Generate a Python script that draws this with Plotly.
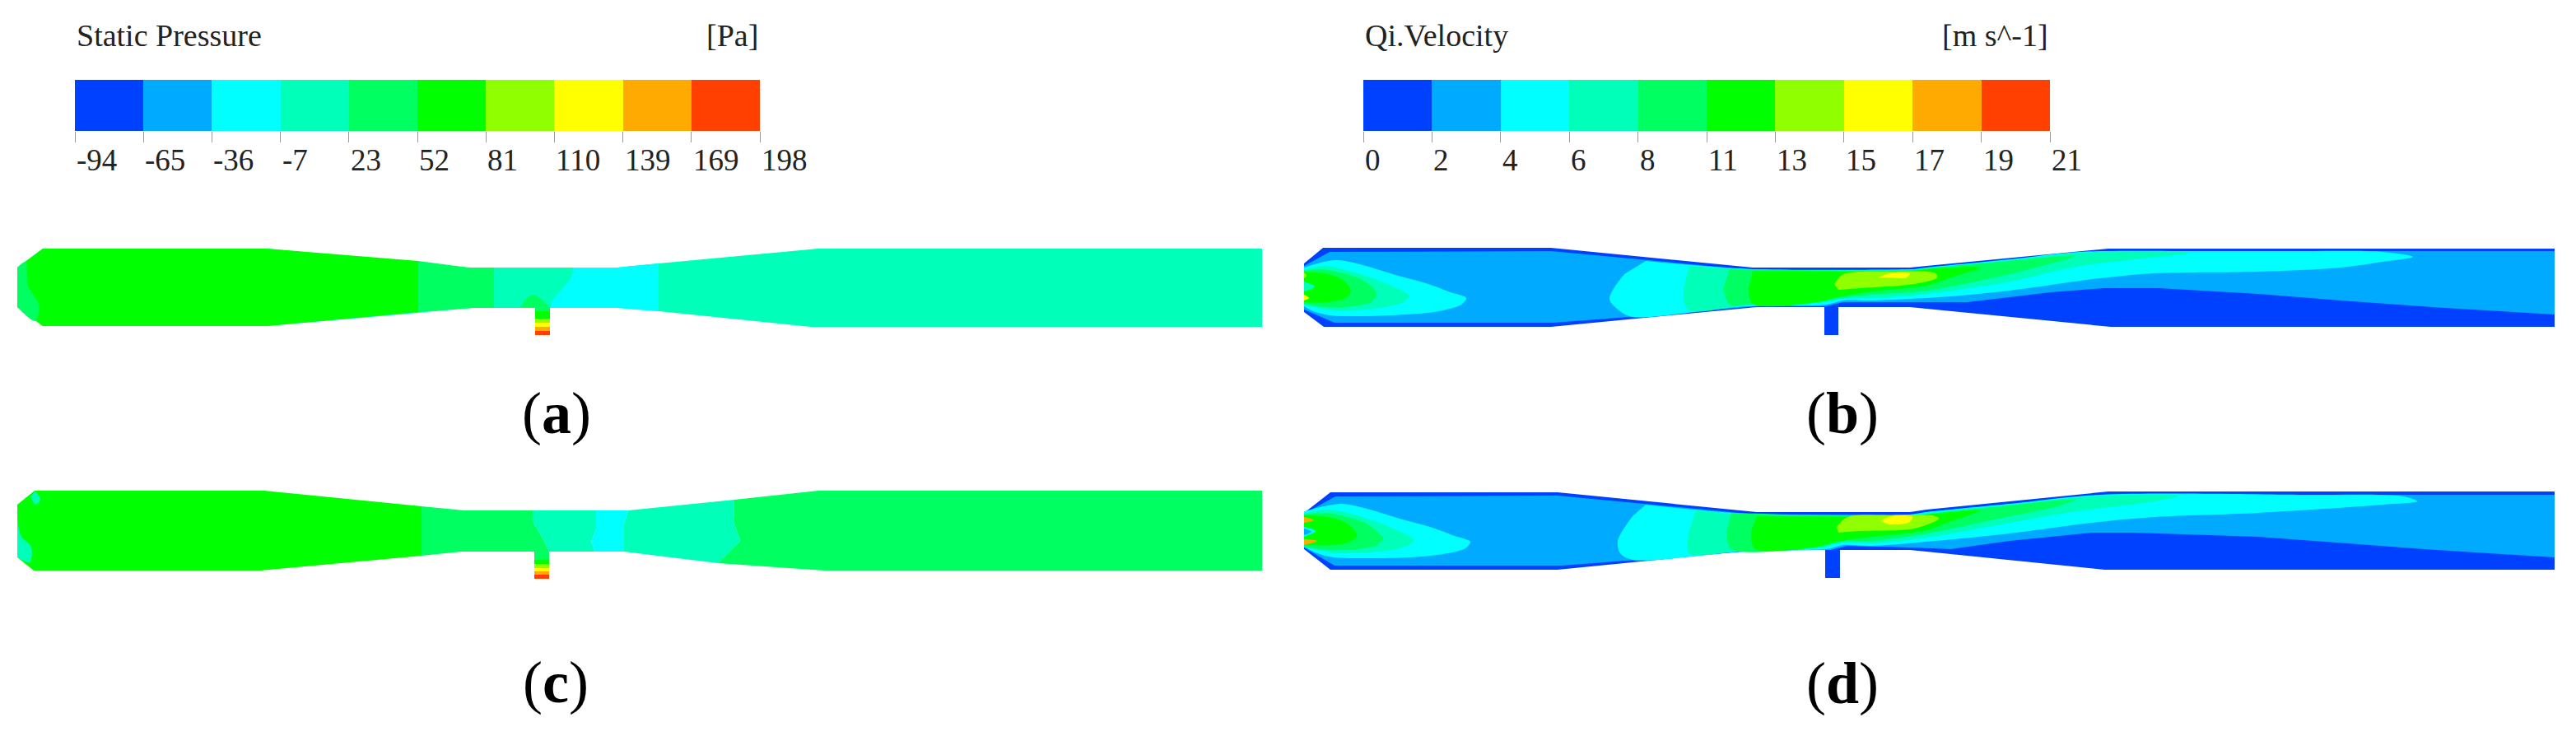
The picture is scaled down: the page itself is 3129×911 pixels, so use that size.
import plotly.graph_objects as go

W, H = 3129, 911
PAGE_MARGIN = 8  # the page body keeps its default margin, so the plot is inset by this much

# level colours, lowest to highest (same for both legends)
LEVELS = ['#0040FF', '#00AAFF', '#00FFFF', '#00FFB8', '#00FF60',
          '#00FF00', '#90FF00', '#FFFF00', '#FFAA00', '#FF4000']
BLUE, SKY, CYAN, TEAL, MINT, GREEN, LIME, YELLOW, ORANGE, RED = LEVELS

pressure_labels = ['-94', '-65', '-36', '-7', '23', '52', '81', '110', '139', '169', '198']
velocity_labels = ['0', '2', '4', '6', '8', '11', '13', '15', '17', '19', '21']

# outlines and contour bands in picture pixels
a_outline = [(21, 325), (52, 302), (324, 302), (569, 325), (750, 325), (800, 320), (994, 302), (1533, 302),
             (1533, 397), (985, 397), (800, 378), (750, 374), (574, 374), (324, 396), (52, 396), (21, 373)]
a_green = [(21, 325), (52, 302), (324, 302), (508, 317), (508, 379), (324, 396), (52, 396), (21, 373)]
a_mint = [(508, 317), (569, 325), (600, 325), (600, 374), (574, 374), (508, 379)]
a_cyan = [(696, 325), (750, 325), (800, 320), (800, 378), (750, 374), (668, 374), (670, 366), (682, 352),
          (692, 340), (696, 330)]
a_end_mint = [(21, 325), (31, 318), (34, 347), (47, 370), (43, 390), (21, 373)]
a_bump = [(632, 373), (640, 362), (648, 358), (656, 362), (668, 374)]
a_stub_edges = [373, 378, 387, 392, 397, 402, 407]
a_stub_x = [650, 668]

b_outline = [(1584, 320), (1607, 301), (1884, 301), (2129, 325), (2320, 325), (2340, 323), (2561, 302), (3103, 302),
             (3103, 397), (2564, 397), (2340, 375), (2320, 373), (2134, 373), (1884, 397), (1608, 397), (1584, 379)]
b_sky = [(1584, 323), (1615, 306), (1884, 305), (2129, 328), (2320, 328), (2340, 326), (2561, 305), (3103, 305),
         (3103, 382), (2969, 374), (2843, 365), (2743, 357), (2622, 350), (2556, 350), (2491, 355), (2390, 367),
         (2320, 367), (2239, 367), (2218, 372), (2134, 372), (1978, 385), (1887, 392), (1621, 392), (1584, 376)]
b_jet_cyan = [(1584, 325), (1608, 318), (1625, 316), (1652, 321), (1692, 333), (1735, 345), (1762, 355), (1781, 362),
              (1775, 370), (1748, 378), (1708, 382), (1658, 384), (1615, 383), (1595, 378), (1584, 372)]
b_jet_teal = [(1584, 328), (1608, 323), (1632, 327), (1665, 337), (1692, 348), (1712, 360), (1702, 368), (1668, 375),
              (1625, 377), (1595, 373), (1584, 370)]
b_jet_mint = [(1584, 329), (1605, 327), (1632, 332), (1655, 340), (1670, 352), (1672, 358), (1665, 367), (1642, 372),
              (1608, 373), (1584, 369)]
b_jet_green = [(1584, 330), (1608, 332), (1628, 338), (1640, 350), (1640, 357), (1632, 363), (1612, 367), (1584, 367)]
b_jet_core = [(1584, 342), (1597, 348), (1588, 353), (1584, 354)]
b_jet_spot1 = [(1584, 331), (1587, 335), (1584, 338)]
b_jet_spot2 = [(1584, 358), (1590, 362), (1584, 365)]
b_cyan = [(1999, 317), (2129, 327), (2325, 327), (2340, 325), (2441, 315), (2526, 306), (2667, 305), (2793, 305),
          (2894, 306), (2931, 312), (2894, 318), (2843, 325), (2743, 330), (2617, 332), (2551, 338), (2441, 353),
          (2370, 360), (2340, 362), (2274, 365), (2239, 365), (2218, 370), (2121, 372), (1983, 385), (1968, 378),
          (1955, 363), (1973, 333)]
b_teal = [(2052, 323), (2129, 327), (2325, 327), (2340, 326), (2441, 316), (2526, 307), (2662, 307), (2592, 315),
          (2516, 325), (2441, 342), (2340, 357), (2274, 362), (2239, 363), (2208, 368), (2121, 371), (2050, 376), (2045, 350)]
b_mint = [(2101, 327), (2325, 328), (2340, 326), (2441, 317), (2521, 311), (2491, 320), (2441, 333), (2340, 353),
          (2274, 358), (2239, 361), (2213, 366), (2121, 370), (2101, 370), (2093, 350)]
b_green = [(2129, 329), (2325, 329), (2340, 327), (2405, 325), (2370, 337), (2340, 347), (2274, 354), (2228, 362),
           (2208, 367), (2129, 369), (2124, 350)]
b_lime = [(2228, 345), (2239, 333), (2300, 330), (2351, 332), (2353, 337), (2325, 345), (2259, 350), (2233, 352)]
b_yellow = [(2282, 337), (2295, 332), (2320, 332), (2315, 338)]
b_stub_edges = [373, 407]
b_stub_x = [2216, 2233]

c_outline = [(21, 613), (42, 596), (321, 596), (564, 620), (755, 620), (994, 596), (1533, 596),
             (1533, 693), (1001, 693), (800, 675), (760, 670), (561, 670), (316, 693), (41, 693), (21, 677)]
c_green = [(21, 613), (42, 596), (321, 596), (512, 615), (512, 675), (316, 693), (41, 693), (21, 677)]
c_mint1 = [(512, 615), (564, 620), (647, 620), (648, 635), (661, 657), (667, 670), (561, 670), (512, 675)]
c_teal1 = [(647, 620), (724, 620), (724, 643), (718, 658), (723, 670), (667, 670), (661, 657), (648, 635)]
c_cyan = [(724, 620), (763, 620), (758, 637), (758, 670), (723, 670), (718, 658), (724, 643)]
c_teal2 = [(763, 620), (892, 607), (891, 633), (899, 657), (872, 684), (800, 675), (758, 670), (758, 637)]
c_mint2 = [(892, 607), (994, 596), (1533, 596), (1533, 693), (1001, 693), (872, 684), (899, 657), (891, 633)]
c_end_teal = [(21, 613), (25, 650), (38, 665), (36, 683), (21, 677)]
c_corner_teal = [(43, 597), (49, 607), (43, 613), (37, 603)]
c_stub_edges = [670, 680, 685, 690, 694, 698, 703]
c_stub_x = [649, 667]

d_outline = [(1584, 623), (1616, 598), (1892, 598), (2134, 622), (2320, 622), (2340, 619), (2561, 597), (3103, 597),
             (3103, 692), (2556, 692), (2340, 670), (2320, 668), (2134, 668), (1892, 692), (1616, 692), (1584, 667)]
d_sky = [(1584, 624), (1622, 603), (1892, 602), (2134, 625), (2320, 625), (2340, 622), (2561, 601), (3103, 601),
         (3103, 677), (2944, 667), (2743, 652), (2592, 647), (2541, 647), (2441, 657), (2370, 667), (2320, 665),
         (2244, 663), (2223, 668), (2134, 669), (1897, 687), (1621, 687), (1584, 665)]
d_jet_cyan = [(1584, 621), (1613, 614), (1630, 612), (1657, 617), (1697, 629), (1740, 641), (1767, 651), (1786, 658),
              (1780, 666), (1753, 673), (1713, 677), (1663, 678), (1620, 677), (1600, 672), (1584, 664)]
d_jet_teal = [(1584, 624), (1613, 619), (1637, 623), (1670, 633), (1697, 644), (1717, 656), (1707, 664), (1673, 670),
              (1630, 672), (1600, 668), (1584, 664)]
d_jet_mint = [(1584, 625), (1610, 623), (1637, 628), (1660, 636), (1675, 648), (1680, 654), (1670, 663), (1647, 667),
              (1613, 668), (1584, 664)]
d_jet_green = [(1584, 626), (1613, 628), (1633, 634), (1646, 645), (1648, 652), (1637, 659), (1617, 662), (1584, 662)]
d_jet_spot1 = [(1584, 628), (1596, 632), (1584, 635)]
d_jet_spot2 = [(1584, 655), (1600, 657), (1584, 662)]
d_jet_core = [(1584, 640), (1598, 645), (1584, 652)]
d_jet_eye = [(1584, 642), (1593, 646), (1584, 650)]
d_cyan = [(1999, 613), (2134, 625), (2320, 625), (2340, 622), (2441, 612), (2551, 601), (2793, 601), (2919, 603),
          (2936, 609), (2894, 613), (2743, 623), (2617, 628), (2541, 635), (2441, 648), (2340, 658), (2274, 663),
          (2239, 662), (2218, 667), (2134, 668), (1983, 680), (1968, 672), (1965, 657), (1983, 627)]
d_teal = [(2060, 620), (2134, 626), (2320, 626), (2340, 623), (2441, 613), (2541, 603), (2647, 602), (2622, 608),
          (2516, 622), (2441, 635), (2340, 653), (2274, 660), (2239, 659), (2213, 665), (2121, 668), (2052, 672), (2051, 648)]
d_mint = [(2103, 623), (2320, 627), (2340, 625), (2441, 614), (2521, 607), (2491, 617), (2441, 627), (2340, 648),
          (2274, 657), (2239, 657), (2213, 663), (2103, 667), (2097, 647)]
d_green = [(2134, 627), (2320, 627), (2340, 625), (2405, 620), (2370, 633), (2340, 644), (2274, 652), (2231, 658),
           (2203, 665), (2131, 666), (2127, 645)]
d_lime = [(2231, 640), (2244, 628), (2300, 626), (2351, 627), (2355, 630), (2325, 642), (2259, 645), (2233, 647)]
d_yellow = [(2284, 633), (2297, 627), (2323, 628), (2318, 635), (2295, 637)]
d_stub_edges = [668, 702]
d_stub_x = [2217, 2235]

fig = go.Figure()


def add_region(points, color, smooth=False):
    xs = [p[0] for p in points]
    ys = [p[1] for p in points]
    line = dict(width=0, shape='spline', smoothing=0.9) if smooth else dict(width=0)
    fig.add_trace(go.Scatter(x=xs, y=ys, mode='lines', fill='toself', fillcolor=color,
                             line=line, hoverinfo='skip', showlegend=False))


def add_stub(stub_x, edges, colors):
    for i, color in enumerate(colors):
        add_region([(stub_x[0], edges[i]), (stub_x[1], edges[i]),
                    (stub_x[1], edges[i + 1]), (stub_x[0], edges[i + 1])], color)


# (a) static pressure
add_stub(a_stub_x, a_stub_edges, [MINT, GREEN, LIME, YELLOW, ORANGE, RED])
add_region(a_outline, TEAL)
add_region(a_green, GREEN)
add_region(a_mint, MINT)
add_region(a_cyan, CYAN)
add_region(a_end_mint, MINT, True)
add_region(a_bump, MINT, True)

# (c) static pressure
add_stub(c_stub_x, c_stub_edges, [MINT, GREEN, LIME, YELLOW, ORANGE, RED])
add_region(c_green, GREEN)
add_region(c_mint1, MINT)
add_region(c_teal1, TEAL)
add_region(c_cyan, CYAN)
add_region(c_teal2, TEAL)
add_region(c_mint2, MINT)
add_region(c_end_teal, TEAL, True)
add_region(c_corner_teal, TEAL, True)

# (b) velocity
add_stub(b_stub_x, b_stub_edges, [BLUE])
add_region(b_outline, BLUE)
add_region(b_sky, SKY)
for pts, col in [(b_jet_cyan, CYAN), (b_jet_teal, TEAL), (b_jet_mint, MINT), (b_jet_green, GREEN),
                 (b_jet_core, TEAL), (b_jet_spot1, LIME), (b_jet_spot2, YELLOW),
                 (b_cyan, CYAN), (b_teal, TEAL), (b_mint, MINT), (b_green, GREEN), (b_lime, LIME), (b_yellow, YELLOW)]:
    add_region(pts, col, True)

# (d) velocity
add_stub(d_stub_x, d_stub_edges, [BLUE])
add_region(d_outline, BLUE)
add_region(d_sky, SKY)
for pts, col in [(d_jet_cyan, CYAN), (d_jet_teal, TEAL), (d_jet_mint, MINT), (d_jet_green, GREEN),
                 (d_jet_spot1, ORANGE), (d_jet_spot2, ORANGE), (d_jet_core, CYAN), (d_jet_eye, SKY),
                 (d_cyan, CYAN), (d_teal, TEAL), (d_mint, MINT), (d_green, GREEN), (d_lime, LIME), (d_yellow, YELLOW)]:
    add_region(pts, col, True)

# discrete legend bars, one cell per level
step_scale = []
for i, color in enumerate(LEVELS):
    step_scale += [[i / 10, color], [(i + 1) / 10, color]]

level_index = list(range(len(LEVELS)))
edge_index = list(range(len(LEVELS) + 1))

for xname, yname in [('x2', 'y2'), ('x3', 'y3')]:
    fig.add_trace(go.Heatmap(z=[level_index], x=edge_index, y=[0, 1], xaxis=xname, yaxis=yname,
                             colorscale=step_scale, zmin=0, zmax=10, showscale=False, hoverinfo='skip'))

serif = 'Liberation Serif'
text_color = '#222222'
annotations = []


def note(x, y, text, size, xanchor='center', xref='x', color=text_color):
    annotations.append(dict(x=x, y=y, text=text, xref=xref, yref='y', showarrow=False, xanchor=xanchor,
                            yanchor='middle', font=dict(family=serif, size=size, color=color)))


for i, label in enumerate(pressure_labels):
    note(edge_index[i], 194, label, 37, 'left', 'x2')
for i, label in enumerate(velocity_labels):
    note(edge_index[i], 194, label, 37, 'left', 'x3')

note(91, 43, 'Static Pressure', 38, 'left')
note(923, 43, '[Pa]', 38, 'right')
note(1656, 43, 'Qi.Velocity', 38, 'left')
note(2490, 43, '[m s^-1]', 38, 'right')

note(676, 502, '(<b>a</b>)', 72, color='#000000')
note(2238, 502, '(<b>b</b>)', 72, color='#000000')
note(675, 829, '(<b>c</b>)', 72, color='#000000')
note(2238, 830, '(<b>d</b>)', 72, color='#000000')

plot_w = W - 2 * PAGE_MARGIN
plot_h = H - 2 * PAGE_MARGIN


def x_domain(left, right):
    return [(left - PAGE_MARGIN) / plot_w, (right - PAGE_MARGIN) / plot_w]


def y_domain(top, bottom):
    return [1 - (bottom - PAGE_MARGIN) / plot_h, 1 - (top - PAGE_MARGIN) / plot_h]


legend_x = dict(range=[0, 10], tickvals=edge_index, ticks='outside', ticklen=13, tickwidth=1,
                tickcolor='#999999', showticklabels=False, showgrid=False, zeroline=False, showline=False)
legend_y = dict(range=[0, 1], visible=False)

fig.update_layout(
    width=plot_w, height=plot_h,
    margin=dict(l=0, r=0, t=0, b=0),
    paper_bgcolor='white', plot_bgcolor='rgba(0,0,0,0)',
    showlegend=False,
    annotations=annotations,
    xaxis=dict(range=[PAGE_MARGIN, W - PAGE_MARGIN], domain=[0, 1], visible=False),
    yaxis=dict(range=[H - PAGE_MARGIN, PAGE_MARGIN], domain=[0, 1], visible=False),
    xaxis2=dict(legend_x, domain=x_domain(91, 923), anchor='y2'),
    yaxis2=dict(legend_y, domain=y_domain(97, 159), anchor='x2'),
    xaxis3=dict(legend_x, domain=x_domain(1656, 2490), anchor='y3'),
    yaxis3=dict(legend_y, domain=y_domain(97, 159), anchor='x3'),
)

fig.write_html("out.html")
